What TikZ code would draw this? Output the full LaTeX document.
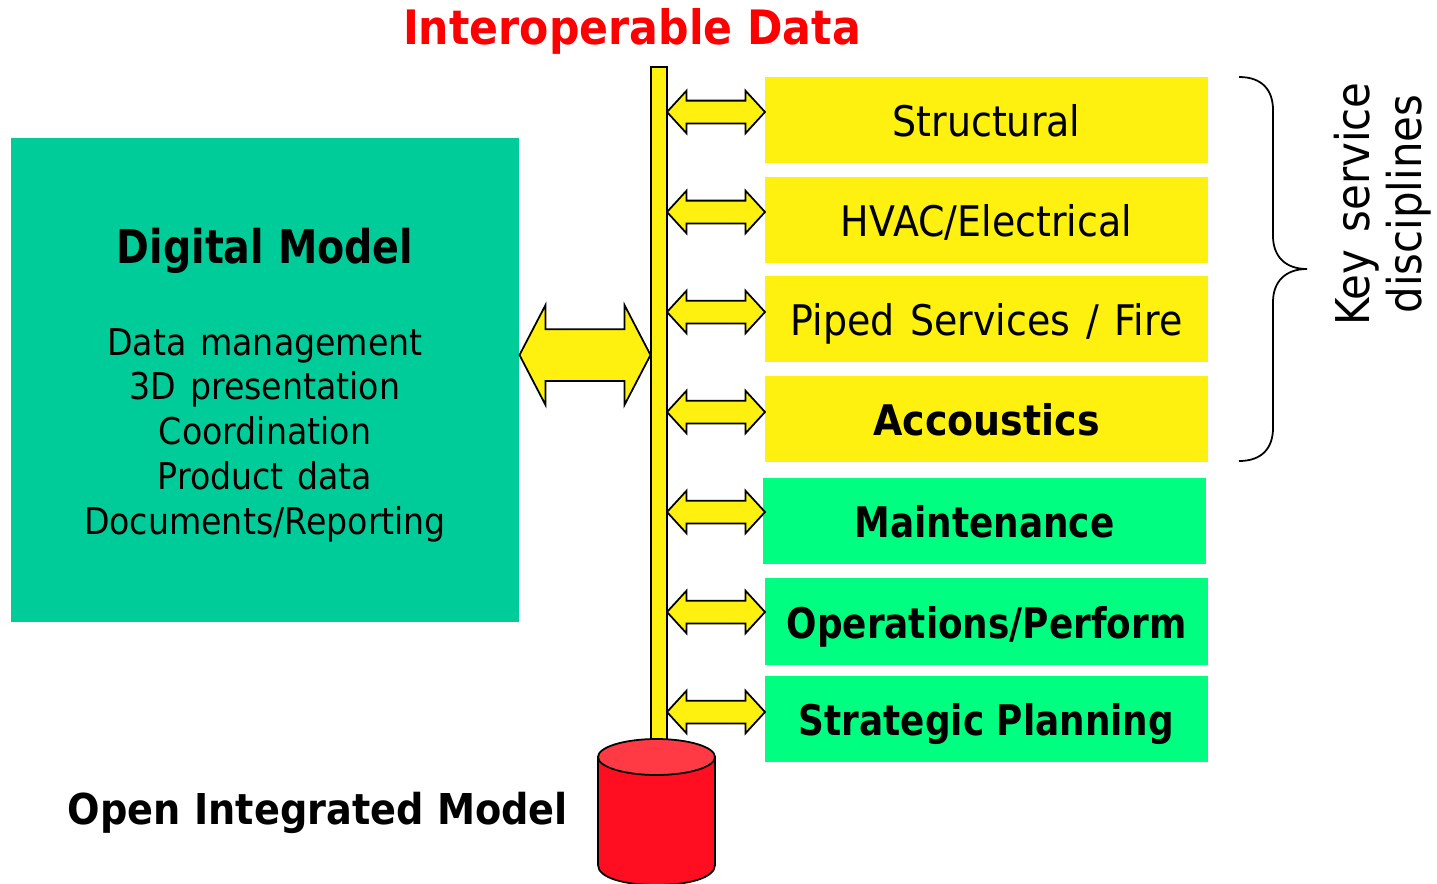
\documentclass[tikz,border=0pt]{standalone}
\usepackage{fontspec}
\setmainfont{DejaVu Sans}[FakeStretch=0.9,WordSpace=1.3]
\newfontfamily\wideheavy{DejaVu Sans Bold}[FakeStretch=0.9]
\newfontfamily\narrowheavy{DejaVu Sans Bold}[FakeStretch=0.85]
\usetikzlibrary{shapes.arrows}
\definecolor{servyellow}{HTML}{FFF10F}
\definecolor{servgreen}{HTML}{00FF80}
\definecolor{modelgreen}{HTML}{00CC99}
\definecolor{drumred}{HTML}{FF0D20}
\definecolor{drumtop}{HTML}{FF3A45}
\def\px{0.02cm}
\tikzset{
	service/.style={minimum width=443*\px,minimum height=86*\px,inner sep=0pt,text height=33*\px,text depth=0pt,font=\fontsize{24}{28}\selectfont},
	yellowbox/.style={service,fill=servyellow},
	greenbox/.style={service,fill=servgreen,font=\fontsize{24}{28}\narrowheavy},
	smallarrow/.style={double arrow,draw=black,fill=servyellow,line width=1pt,inner xsep=0pt,inner ysep=10.5*\px,minimum height=98*\px,minimum width=42*\px,double arrow head extend=10*\px,double arrow tip angle=95},
	bigarrow/.style={smallarrow,inner ysep=25*\px,minimum height=131*\px,minimum width=98*\px,double arrow head extend=24*\px,double arrow tip angle=125},
}
\begin{document}
\begin{tikzpicture}[x=\px,y=-\px]
	\useasboundingbox (0,0) rectangle (1437,883);
	% left block
	\node[fill=modelgreen,minimum width=508*\px,minimum height=484*\px,inner sep=0pt] (digital) at (265,380) {};
	\node[font=\fontsize{26.5}{30}\narrowheavy] (digitaltitle) at (265,251) {Digital Model};
	\node[align=center,font=\fontsize{21}{25.5}\selectfont] (digitaltext) at (265,435) {Data management\\3D presentation\\Coordination\\Product data\\Documents/Reporting};
	% bus and title
	\node[draw=black,fill=servyellow,line width=1pt,minimum width=16*\px,minimum height=673*\px,inner sep=0pt] (bus) at (659,403.5) {};
	\node[text=red,font=\fontsize{27}{30}\wideheavy] (title) at (632,31) {Interoperable Data};
	% service boxes
	\node[yellowbox] (structural) at (986.5,120) {Structural};
	\node[yellowbox] (hvac) at (986.5,220) {HVAC/Electrical};
	\node[yellowbox] (piped) at (986.5,319) {Piped Services / Fire};
	\node[yellowbox,font=\fontsize{24}{28}\wideheavy] (acoustics) at (986.5,419) {Accoustics};
	\node[greenbox] (maintenance) at (984.5,521) {Maintenance};
	\node[greenbox,minimum height=87*\px] (operations) at (986.5,621.5) {Operations/Perform};
	\node[greenbox] (strategic) at (986.5,719) {Strategic Planning};
	% arrows to the bus
	\foreach \y/\name in {112/a,212/b,312/c,412/d,512/e,612/f,712/g}
		\node[smallarrow] (arrow\name) at (716,\y) {};
	\node[bigarrow] (arrowmodel) at (585,355) {};
	% drum
	\draw[fill=drumred,line width=1pt] (598,757) -- (598,865) .. controls (598,878) and (625,885) .. (656.5,885) .. controls (688,885) and (715,878) .. (715,865) -- (715,757) -- cycle;
	\draw[fill=drumtop,line width=1pt] (656.5,757) ellipse[x radius=58.5,y radius=18];
	\node[font=\fontsize{24.2}{28}\wideheavy] (openmodel) at (318,813) {Open Integrated Model};
	% brace
	\draw[line width=1pt] (1239,77) .. controls (1262,77) and (1273,90) .. (1273,110) -- (1273,236) .. controls (1273,256) and (1285,269) .. (1307,269) .. controls (1285,269) and (1273,282) .. (1273,302) -- (1273,428) .. controls (1273,448) and (1262,461) .. (1239,461);
	\node[rotate=90,align=center,font=\fontsize{26.5}{29.6}\selectfont] (keyservice) at (1383,204) {Key service\\disciplines};
\end{tikzpicture}
\end{document}
